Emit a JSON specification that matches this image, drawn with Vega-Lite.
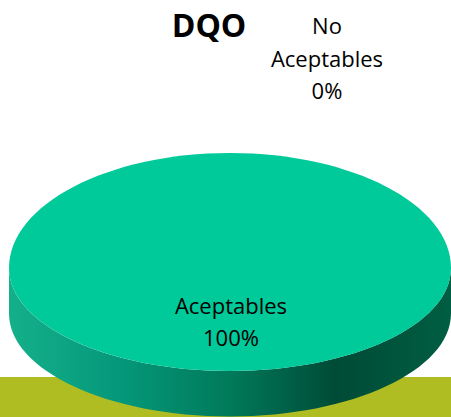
{
  "$schema": "https://vega.github.io/schema/vega-lite/v6.json",
  "width": 451,
  "height": 417,
  "autosize": {"type": "fit", "contains": "padding"},
  "padding": 0,
  "background": "white",
  "config": {"view": {"stroke": null}},
  "datasets": {
    "pie": [
      {"category": "Aceptables", "value": 100},
      {"category": "No Aceptables", "value": 0}
    ]
  },
  "layer": [
    {
      "data": {"values": [{"region": "suelo"}]},
      "mark": {"type": "rect", "color": "#AFBD22"},
      "encoding": {
        "x": {"datum": -1.0407, "type": "quantitative", "scale": {"domain": [-1.0407, 1.0], "nice": false, "zero": false}, "axis": null},
        "x2": {"datum": 1.0},
        "y": {"datum": -0.4932, "type": "quantitative", "scale": {"domain": [-0.6742, 1.2127], "nice": false, "zero": false}, "axis": null},
        "y2": {"datum": -0.6742}
      }
    },
    {
      "data": {"name": "pie"},
      "transform": [{"filter": "datum.value > 0"}],
      "mark": {
        "type": "point",
        "filled": true,
        "opacity": 1,
        "strokeWidth": 0,
        "size": 195364,
        "shape": "M-1,0 A1,0.466 0 0,0 1,0 L1,0.206 A1,0.466 0 0,1 -1,0.206 Z",
        "fill": {
          "gradient": "linear",
          "x1": 0, "y1": 0, "x2": 1, "y2": 0,
          "stops": [
            {"offset": 0, "color": "#14B08A"},
            {"offset": 0.25, "color": "#05987A"},
            {"offset": 0.5, "color": "#007A5A"},
            {"offset": 0.74, "color": "#004B36"},
            {"offset": 1, "color": "#005E42"}
          ]
        }
      },
      "encoding": {
        "x": {"datum": 0, "type": "quantitative"},
        "y": {"datum": 0, "type": "quantitative"}
      }
    },
    {
      "data": {"name": "pie"},
      "transform": [{"filter": "datum.value > 0"}],
      "mark": {
        "type": "point",
        "filled": true,
        "opacity": 1,
        "strokeWidth": 0,
        "size": 195364,
        "shape": "M-1,0 A1,0.52 0 0,1 1,0 A1,0.466 0 0,1 -1,0 Z",
        "fill": "#00C99A"
      },
      "encoding": {
        "x": {"datum": 0, "type": "quantitative"},
        "y": {"datum": 0, "type": "quantitative"}
      }
    },
    {
      "data": {"name": "pie"},
      "transform": [
        {"filter": "datum.category == 'Aceptables'"},
        {"calculate": "datum.category + ' ' + datum.value + '%'", "as": "label"}
      ],
      "mark": {"type": "text", "font": "Open Sans", "fontSize": 22, "lineBreak": " ", "lineHeight": 32.5, "align": "center", "baseline": "alphabetic", "color": "#000000"},
      "encoding": {
        "x": {"datum": 0.0045, "type": "quantitative"},
        "y": {"datum": -0.2081, "type": "quantitative"},
        "text": {"field": "label"}
      }
    },
    {
      "data": {"name": "pie"},
      "transform": [
        {"filter": "datum.category == 'No Aceptables'"},
        {"calculate": "datum.category + ' ' + datum.value + '%'", "as": "label"}
      ],
      "mark": {"type": "text", "font": "Open Sans", "fontSize": 22, "lineBreak": " ", "lineHeight": 32.5, "align": "center", "baseline": "alphabetic", "color": "#000000"},
      "encoding": {
        "x": {"datum": 0.4389, "type": "quantitative"},
        "y": {"datum": 1.0588, "type": "quantitative"},
        "text": {"field": "label"}
      }
    },
    {
      "data": {"values": [{"titulo": "DQO"}]},
      "mark": {"type": "text", "font": "Open Sans", "fontSize": 32, "fontWeight": "bold", "align": "center", "baseline": "alphabetic", "color": "#000000"},
      "encoding": {
        "x": {"datum": -0.095, "type": "quantitative"},
        "y": {"datum": 1.0452, "type": "quantitative"},
        "text": {"field": "titulo"}
      }
    }
  ]
}
